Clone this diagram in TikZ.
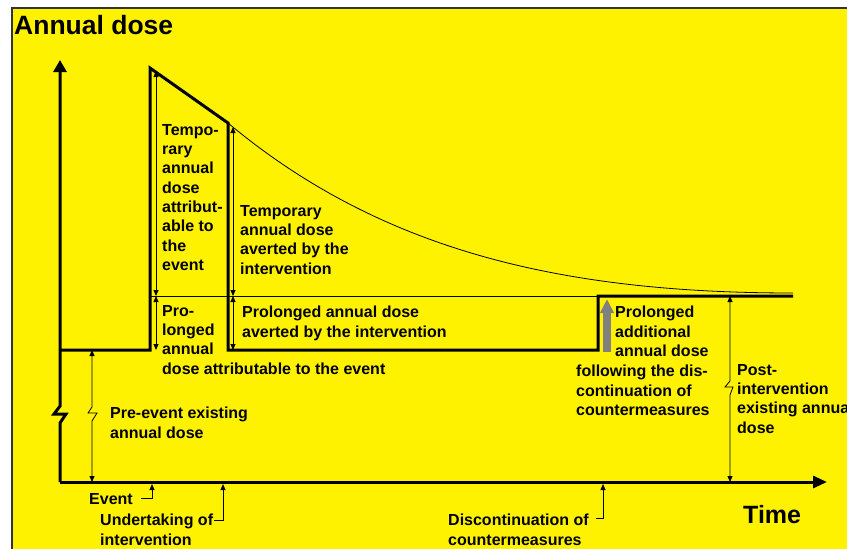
\documentclass[tikz,border=0pt]{standalone}
\usepackage{fontspec}
\setmainfont{Liberation Sans}
\usetikzlibrary{arrows.meta}

\begin{document}
\begin{tikzpicture}[x=1pt,y=-1pt]
	\tikzstyle{every node}=[inner sep=0pt,anchor=north west,align=left,
		font=\fontsize{16}{19.3}\selectfont\bfseries]
	\tikzstyle{big label}=[font=\fontsize{25}{30}\selectfont\bfseries]
	\tikzstyle{dose line}=[line width=3pt]
	\tikzstyle{thin line}=[line width=0.8pt]
	\tikzstyle{dim arrow}=[line width=0.8pt,
		{Triangle[length=6pt,width=5pt]}-{Triangle[length=6pt,width=5pt]}]
	\tikzstyle{tick arrow}=[line width=0.8pt,-{Triangle[length=6pt,width=5pt]}]
	\useasboundingbox (0,0) rectangle (847,549);
	\fill[white] (0,0) rectangle (847,549);
	\draw[fill=yellow,draw=black!80,line width=1.5pt] (12,8) rectangle (850,552);
	% axes
	\coordinate (origin) at (60,482);
	\coordinate (ytip) at (60,60);
	\coordinate (xtip) at (827,482);
	\coordinate (yb1) at (60,406);
	\coordinate (yb2) at (54,414);
	\coordinate (yb3) at (66,414);
	\coordinate (yb4) at (60,423);
	\draw[dose line,-{Triangle[length=12pt,width=13pt]}] (origin) -- (yb4) -- (yb3) -- (yb2) -- (yb1) -- (ytip);
	\draw[dose line,-{Triangle[length=14pt,width=12pt]}] (origin) -- (xtip);
	% annual dose
	\coordinate (pre) at (60,350);
	\coordinate (eventlow) at (150,350);
	\coordinate (eventtop) at (150,68);
	\coordinate (intertop) at (228,123);
	\coordinate (interlow) at (228,350);
	\coordinate (stoplow) at (598,350);
	\coordinate (stophigh) at (598,296);
	\coordinate (doseend) at (793,296);
	\coordinate (prolevel) at (150,296);
	\coordinate (curveend) at (793,293);
	\draw[dose line] (pre) -- (eventlow) -- (eventtop) -- (intertop) -- (interlow) -- (stoplow) -- (stophigh) -- (doseend);
	\draw[thin line] (prolevel) -- (stophigh);
	\draw[thin line] (intertop) .. controls (380,250) and (560,293) .. (curveend);
	% dimension arrows
	\draw[dim arrow] (156,71) -- (156,296);
	\draw[dim arrow] (156,296) -- (156,350);
	\draw[dim arrow] (233,127) -- (233,296);
	\draw[dim arrow] (233,296) -- (233,350);
	\draw[dim arrow] (92,350) -- (92,407) -- (88,413) -- (97,413) -- (92,421) -- (92,482);
	\draw[dim arrow] (730,296) -- (730,381) -- (725,387) -- (733,387) -- (730,395) -- (730,482);
	\draw[gray,line width=8pt,-{Triangle[length=14pt,width=13pt]}] (607,352) -- (607,299);
	% time marks
	\draw[tick arrow] (141,498) -- (152,498) -- (152,484);
	\draw[tick arrow] (214,520) -- (223,520) -- (223,484);
	\draw[tick arrow] (596,518) -- (603,518) -- (603,484);
	% labels
	\node[big label,font=\fontsize{26.5}{30}\selectfont\bfseries] (ytitle) at (14,15) {Annual dose};
	\node[big label] (time) at (743,505) {Time};
	\node (tempevent) at (162,124) {Tempo-\\rary\\annual\\dose\\attribut-\\able to\\the\\event};
	\node (tempaverted) at (240,205) {Temporary\\annual dose\\averted by the\\intervention};
	\node (prolevent) at (162,305) {Pro-\\longed\\annual\\dose attributable to the event};
	\node (prolaverted) at (242,306) {Prolonged annual dose\\averted by the intervention};
	\node (preevent) at (110,407) {Pre-event existing\\annual dose};
	\node (prolextra) at (615,306) {Prolonged\\additional\\annual dose};
	\node (following) at (576,365) {following the dis-\\continuation of\\countermeasures};
	\node (postlevel) at (737,364) {Post-\\intervention\\existing annual\\dose};
	\node (event) at (89,493) {Event};
	\node (undertaking) at (100,514) {Undertaking of\\intervention};
	\node (discont) at (448,514) {Discontinuation of\\countermeasures};
\end{tikzpicture}
\end{document}
